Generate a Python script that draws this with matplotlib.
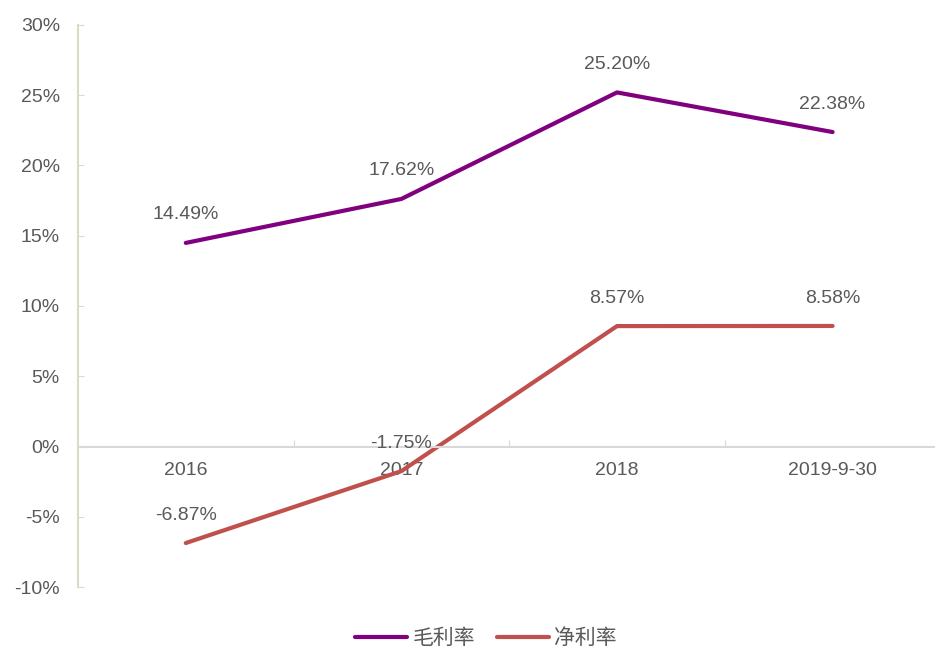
import matplotlib.pyplot as plt
from matplotlib.ticker import FuncFormatter, FixedLocator

plt.rcParams['font.family'] = ['Liberation Sans', 'Noto Sans CJK SC', 'DejaVu Sans']

# ===============================
# Data
# ===============================
categories = ["2016", "2017", "2018", "2019-9-30"]
gross_margin = [14.49, 17.62, 25.20, 22.38]
net_margin = [-6.87, -1.75, 8.57, 8.58]

text_color = "#595959"

fig = plt.figure(figsize=(9.35, 6.47), dpi=100)
ax = fig.add_axes([0.0834, 0.0927, 0.9166, 0.8687])

x = list(range(len(categories)))
ax.plot(x, gross_margin, color="#800080", linewidth=3, label="毛利率",
        solid_capstyle="round")
ax.plot(x, net_margin, color="#C0504D", linewidth=3, label="净利率",
        solid_capstyle="round")

# data labels
for xi, v in zip(x, gross_margin):
    ax.annotate(f"{v:.2f}%", (xi, v), xytext=(0, 14), textcoords="offset points",
                ha="center", va="bottom", fontsize=14, color=text_color)
for xi, v in zip(x, net_margin):
    ax.annotate(f"{v:.2f}%", (xi, v), xytext=(0, 14), textcoords="offset points",
                ha="center", va="bottom", fontsize=14, color=text_color)

# ===============================
# Axes styling
# ===============================
ax.set_xlim(-0.5, 3.475)
ax.set_ylim(-10, 30)
ax.set_yticks(range(-10, 31, 5))
ax.yaxis.set_major_formatter(FuncFormatter(lambda v, p: f"{v:.0f}%"))
ax.tick_params(axis="y", direction="in", length=4, color="#DDDBC6",
               labelsize=14, labelcolor=text_color, pad=13)

for s in ["top", "right"]:
    ax.spines[s].set_visible(False)
ax.spines["left"].set_color("#DDDBC6")
ax.spines["left"].set_linewidth(1.5)
ax.spines["bottom"].set_position(("data", 0))
ax.spines["bottom"].set_color("#D9D9D9")
ax.spines["bottom"].set_linewidth(1.5)

ax.xaxis.set_major_locator(FixedLocator([0.5, 1.5, 2.5]))
ax.xaxis.set_major_formatter(FuncFormatter(lambda v, p: ""))
ax.xaxis.set_minor_locator(FixedLocator(x))
ax.set_xticklabels(categories, minor=True)
ax.tick_params(axis="x", which="major", direction="in", length=5, color="#D9D9D9")
ax.tick_params(axis="x", which="minor", length=0, labelsize=14,
               labelcolor=text_color, pad=11)

leg = ax.legend(loc="upper center", bbox_to_anchor=(0.476, -0.04), ncol=2,
                frameon=False, fontsize=15, handlelength=2.5, handletextpad=0.25,
                columnspacing=1.05)
for t in leg.get_texts():
    t.set_color(text_color)

fig.savefig("out.png", dpi=100)
